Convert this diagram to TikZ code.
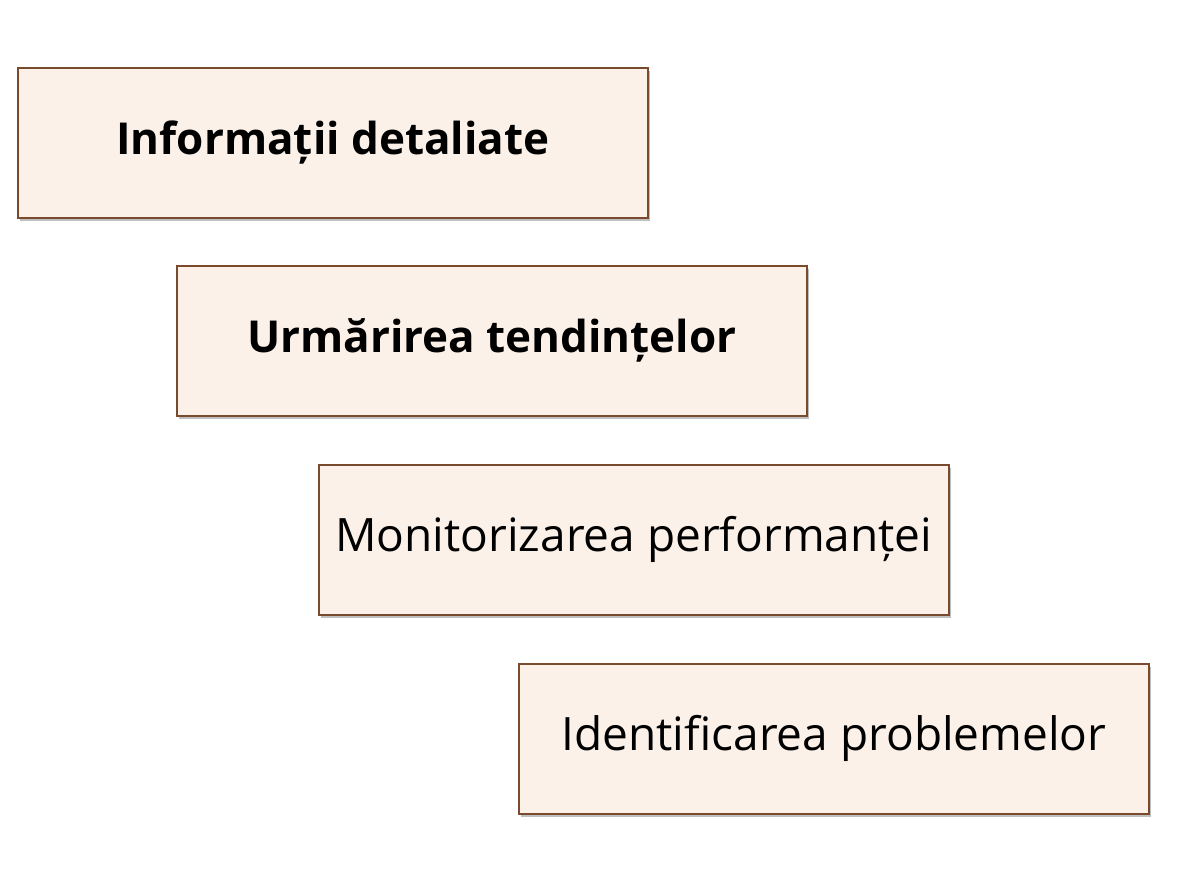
\documentclass[tikz,border=0pt]{standalone}
\usepackage{fontspec}
\setmainfont{Open Sans}
\begin{document}
\begin{tikzpicture}[x=1pt,y=-1pt,
  box/.style={draw=boxline,line width=1.8pt,fill=boxfill,minimum width=630pt,minimum height=150pt,anchor=north west,inner sep=0pt,
  preaction={fill=black!25,transform canvas={xshift=2pt,yshift=-3pt}}},
  bt/.style={font=\fontsize{44}{50}\selectfont\bfseries},
  rt/.style={font=\fontsize{46}{52}\selectfont}]
\definecolor{boxfill}{HTML}{FBF1E8}
\definecolor{boxline}{HTML}{7A4A2E}
\useasboundingbox[fill=white] (0,0) rectangle (1193,896);
\node[box,bt] (a) at (17,67) {\raisebox{-4pt}{Informații detaliate}};
\node[box,bt] (b) at (176,265) {\raisebox{-4pt}{Urmărirea tendințelor}};
\node[box,rt] (c) at (318,464) {\raisebox{-4pt}{Monitorizarea performanței}};
\node[box,rt] (d) at (518,663) {\raisebox{-4pt}{Identificarea problemelor}};
\end{tikzpicture}
\end{document}
